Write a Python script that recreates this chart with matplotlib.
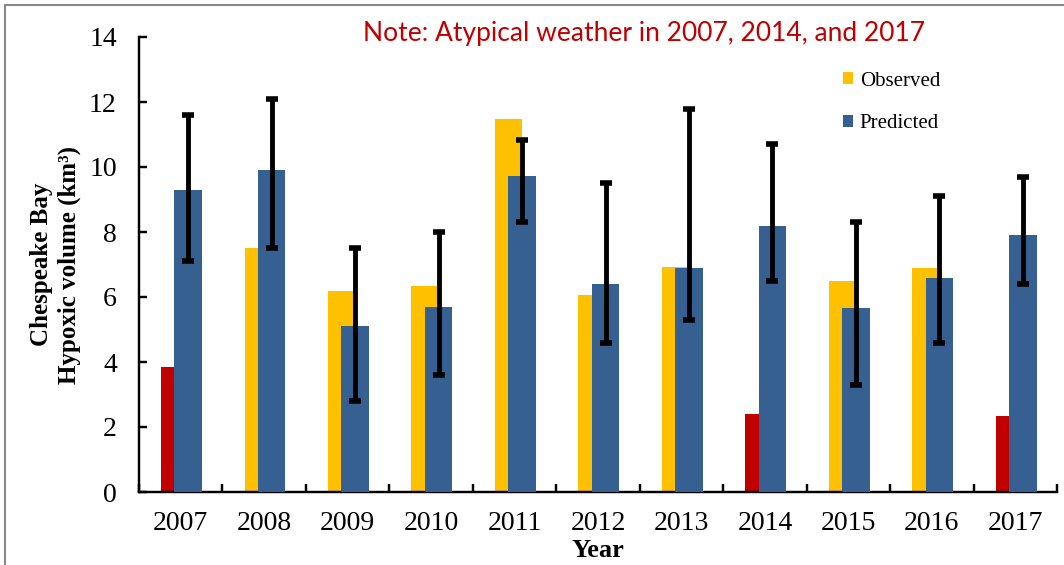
import matplotlib
matplotlib.use("Agg")
import matplotlib.pyplot as plt
import numpy as np
from matplotlib.patches import Patch
from matplotlib.lines import Line2D

# ---- data ----
years = ["2007", "2008", "2009", "2010", "2011", "2012", "2013", "2014", "2015", "2016", "2017"]
observed = [3.85, 7.5, 6.2, 6.35, 11.47, 6.05, 6.92, 2.4, 6.5, 6.9, 2.35]
predicted = [9.3, 9.9, 5.1, 5.7, 9.72, 6.4, 6.9, 8.2, 5.65, 6.6, 7.9]
pred_low = [7.1, 7.5, 2.8, 3.6, 8.32, 4.6, 5.3, 6.5, 3.3, 4.6, 6.4]
pred_high = [11.6, 12.1, 7.5, 8.0, 10.83, 9.5, 11.8, 10.7, 8.3, 9.1, 9.7]
atypical = ["2007", "2014", "2017"]

YELLOW = "#FFC000"
BLUE = "#376092"
RED = "#C00000"
SERIF = "Liberation Serif"

fig = plt.figure(figsize=(10.64, 5.65), dpi=100)
ax = fig.add_axes([139 / 1064, 1 - 492 / 565, 918 / 1064, 455 / 565])

x = np.arange(len(years))
width = 0.33
obs_colors = [RED if y in atypical else YELLOW for y in years]

ax.bar(x - 0.07, observed, width, color=obs_colors, zorder=2)
ax.bar(x + 0.09, predicted, width, color=BLUE, zorder=3)

pred = np.array(predicted)
yerr = [pred - np.array(pred_low), np.array(pred_high) - pred]
ax.errorbar(x + 0.09, pred, yerr=yerr, fmt="none", ecolor="black",
            elinewidth=3.5, capsize=4.5, capthick=4, zorder=4)

ax.set_xlim(-0.5, len(years) - 0.5)
ax.set_ylim(0, 14)
ax.set_yticks(np.arange(0, 15, 2))

# category boundary ticks, labels at centres
ax.set_xticks(np.arange(len(years) + 1) - 0.5)
ax.set_xticklabels([])
ax.set_xticks(x, minor=True)
ax.set_xticklabels(years, minor=True)
ax.tick_params(axis="x", which="major", direction="in", length=6, width=1.75)
ax.tick_params(axis="x", which="minor", length=0, pad=14, labelsize=20)
ax.tick_params(axis="y", direction="in", length=6, width=1.75, pad=16, labelsize=20)
for lab in ax.get_xticklabels(minor=True) + ax.get_yticklabels():
    lab.set_fontfamily(SERIF)

for side in ["top", "right"]:
    ax.spines[side].set_visible(False)
for side in ["left", "bottom"]:
    ax.spines[side].set_linewidth(1.75)

ax.set_ylabel("Chespeake Bay\nHypoxic volume (km³)", fontfamily=SERIF,
              fontweight="bold", fontsize=18, labelpad=6, linespacing=1.25)
ax.set_xlabel("Year", fontfamily=SERIF, fontweight="bold", fontsize=19, labelpad=2)

fig.text(363 / 1064, 1 - 33 / 565, "Note: Atypical weather in 2007, 2014, and 2017",
         color=RED, fontfamily="Lato", fontsize=19, ha="left", va="center")

handles = [Patch(facecolor=YELLOW, label="Observed"), Patch(facecolor=BLUE, label="Predicted")]
leg = fig.legend(handles=handles, loc="center left",
                 bbox_to_anchor=(843 / 1064, 1 - 102.5 / 565),
                 frameon=False, handlelength=0.5, handleheight=0.5,
                 handletextpad=0.3, labelspacing=1.15, borderpad=0, borderaxespad=0,
                 prop={"family": SERIF, "size": 15})

# grey frame on the left and top edges of the picture
fig.add_artist(Line2D([5 / 1064, 5 / 1064], [0, 1 - 5 / 565], color="#888888", lw=1.5))
fig.add_artist(Line2D([5 / 1064, 1], [1 - 5 / 565, 1 - 5 / 565], color="#888888", lw=1.5))

fig.savefig("out.png", dpi=100)
